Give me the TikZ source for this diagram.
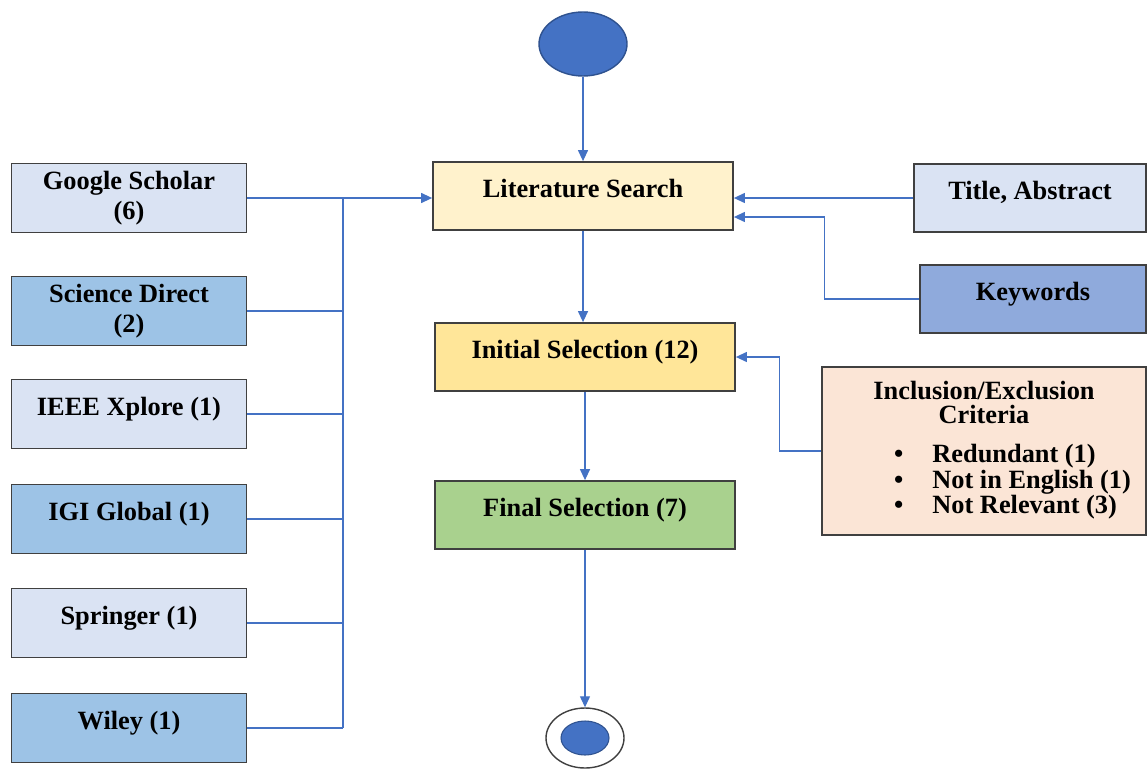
\documentclass[tikz,border=0pt]{standalone}
\usepackage{fontspec}
\setmainfont{Liberation Serif}
\usetikzlibrary{arrows.meta,positioning,shapes.geometric}
\definecolor{srclight}{HTML}{DAE3F3}
\definecolor{srcmid}{HTML}{9DC3E6}
\definecolor{kwblue}{HTML}{8FAADC}
\definecolor{searchfill}{HTML}{FFF2CC}
\definecolor{initfill}{HTML}{FFE699}
\definecolor{finalfill}{HTML}{A9D18E}
\definecolor{critfill}{HTML}{FBE5D6}
\definecolor{linkblue}{HTML}{4472C4}
\definecolor{dotedge}{HTML}{2F528F}
\definecolor{edgegray}{HTML}{404040}
\tikzset{
  basebox/.style={
    draw=edgegray,
    line width=1pt,
    align=center,
    font=\bfseries\fontsize{15}{17}\selectfont
  },
  onerow/.style={text height=3.5mm, text depth=2.9mm},
  srcbox/.style={basebox, minimum width=47mm, minimum height=13.8mm},
  stagebox/.style={basebox, onerow, minimum width=60mm, minimum height=13.6mm},
  startdot/.style={ellipse, draw=dotedge, line width=0.8pt, fill=linkblue,
    minimum width=17.6mm, minimum height=12.8mm, inner sep=0pt},
  endring/.style={ellipse, draw=edgegray, line width=0.8pt, fill=white,
    minimum width=15.6mm, minimum height=12mm, inner sep=0pt},
  enddot/.style={ellipse, draw=dotedge, line width=0.6pt, fill=linkblue,
    minimum width=9.6mm, minimum height=6.8mm, inner sep=0pt},
  link/.style={draw=linkblue, line width=0.7pt},
  arrowlink/.style={link, -{Triangle[length=2.2mm,width=2mm]}}
}
\begin{document}
\begin{tikzpicture}[x=0.2mm,y=-0.2mm]
\useasboundingbox (0,0) rectangle (1148,769);
% centre column
\node[startdot] (start) at (583,44) {};
\node[stagebox, fill=searchfill] (search) at (583,196) {Literature Search};
\node[stagebox, fill=initfill] (initsel) at (585,357) {Initial Selection (12)};
\node[stagebox, fill=finalfill] (finalsel) at (585,515) {Final Selection (7)};
\node[endring] (endring) at (585,738) {};
\node[enddot] (enddot) at (585,738) {};
% sources on the left
\node[srcbox, fill=srclight] (scholar) at (129,198) {Google Scholar\\(6)};
\node[srcbox, fill=srcmid] (direct) at (129,311) {Science Direct\\(2)};
\node[srcbox, onerow, fill=srclight] (ieee) at (129,414) {IEEE Xplore (1)};
\node[srcbox, onerow, fill=srcmid] (igi) at (129,519) {IGI Global (1)};
\node[srcbox, onerow, fill=srclight] (springer) at (129,623) {Springer (1)};
\node[srcbox, onerow, fill=srcmid] (wiley) at (129,728) {Wiley (1)};
% search terms and criteria on the right
\node[basebox, onerow, fill=srclight, minimum width=46.4mm, minimum height=13.6mm] (title) at (1030,198) {Title, Abstract};
\node[basebox, onerow, fill=kwblue, minimum width=45.2mm, minimum height=13.6mm] (keywords) at (1033,299) {Keywords};
\node[basebox, fill=critfill, minimum width=64.8mm, minimum height=33.6mm,
      font=\bfseries\fontsize{15}{13.8}\selectfont] (criteria) at (984,451)
  {Inclusion/Exclusion\\Criteria\\[3mm]
   \hspace*{11.4mm}\begin{tabular}[t]{@{}l@{\hspace{5.8mm}}l@{}}
   \textbullet & Redundant (1)\\
   \textbullet & Not in English (1)\\
   \textbullet & Not Relevant (3)
   \end{tabular}};
% flow
\draw[arrowlink] (start) -- (search);
\draw[arrowlink] (search.south) -- (search.south |- initsel.north);
\draw[arrowlink] (initsel) -- (finalsel);
\draw[arrowlink] (finalsel) -- (endring);
% left bus
\coordinate (bus) at (343,198);
\draw[arrowlink] (scholar.east) -- (scholar.east -| search.west);
\draw[link] (bus) -- (bus |- wiley.east);
\draw[link] (direct.east) -- (direct.east -| bus);
\draw[link] (ieee.east) -- (ieee.east -| bus);
\draw[link] (igi.east) -- (igi.east -| bus);
\draw[link] (springer.east) -- (springer.east -| bus);
\draw[link] (wiley.east) -- (wiley.east -| bus);
% right side
\draw[arrowlink] (title.west) -- (title.west -| search.east);
\draw[arrowlink] (keywords.west) -- ++(-95,0) |- ([yshift=-4.2mm]search.east);
\draw[arrowlink] (criteria.west) -- ++(-42,0) |- (initsel.east);
\end{tikzpicture}
\end{document}
